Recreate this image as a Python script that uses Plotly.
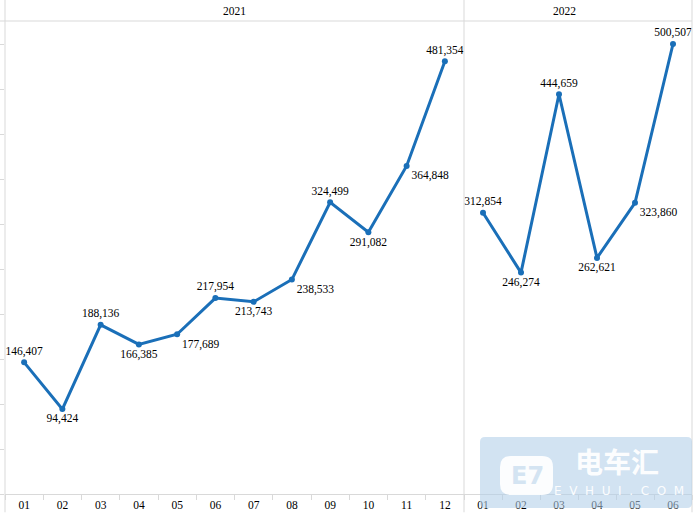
import plotly.graph_objects as go

months_2021 = ["01", "02", "03", "04", "05", "06", "07", "08", "09", "10", "11", "12"]
values_2021 = [146407, 94424, 188136, 166385, 177689, 217954, 213743, 238533, 324499, 291082, 364848, 481354]
pos_2021 = ["top center", "bottom center", "top center", "bottom center", "bottom right", "top center",
            "bottom center", "bottom right", "top center", "bottom center", "bottom right", "top center"]

months_2022 = ["01", "02", "03", "04", "05", "06"]
values_2022 = [312854, 246274, 444659, 262621, 323860, 500507]
pos_2022 = ["top center", "bottom center", "top center", "bottom center", "bottom right", "top center"]

years = ["2021", "2022"]

W, H = 700, 517
L, R, T, B = 5, 8, 22, 23
pw, ph = W - L - R, H - T - B
split = (464 - L) / pw

BLUE = "#1a6fb8"
GRID = "#d9d9d9"
FONT = "Liberation Serif"
FS = 11.5

def fmt(v):
    return f"{v:,}"

fig = go.Figure()
fig.add_trace(go.Scatter(x=months_2021, y=values_2021, mode="lines+markers+text",
                         text=[fmt(v) for v in values_2021], textposition=pos_2021,
                         line=dict(color=BLUE, width=3), marker=dict(color=BLUE, size=6),
                         textfont=dict(family=FONT, size=FS, color="black"),
                         xaxis="x", yaxis="y", cliponaxis=False, hoverinfo="skip"))
fig.add_trace(go.Scatter(x=months_2022, y=values_2022, mode="lines+markers+text",
                         text=[fmt(v) for v in values_2022], textposition=pos_2022,
                         line=dict(color=BLUE, width=3), marker=dict(color=BLUE, size=6),
                         textfont=dict(family=FONT, size=FS, color="black"),
                         xaxis="x2", yaxis="y2", cliponaxis=False, hoverinfo="skip"))

xcommon = dict(type="category", showgrid=False, zeroline=False, showline=True, linecolor=GRID,
               ticks="outside", tickson="boundaries", ticklen=5, tickcolor=GRID, automargin=False,
               tickfont=dict(family=FONT, size=FS, color="black"))
ycommon = dict(range=[0, 525000], dtick=50000, showgrid=False, zeroline=False,
               showticklabels=False, automargin=False)

fig.update_layout(
    width=W, height=H, margin=dict(l=L, r=R, t=T, b=B),
    paper_bgcolor="white", plot_bgcolor="white", showlegend=False,
    xaxis=dict(domain=[0, split], anchor="y", range=[-0.5, len(months_2021) - 0.5], **xcommon),
    xaxis2=dict(domain=[split, 1], anchor="y2", range=[-0.5, len(months_2022) - 0.5], **xcommon),
    yaxis=dict(domain=[0, 1], anchor="x", ticks="outside", ticklen=5, tickcolor=GRID, **ycommon),
    yaxis2=dict(domain=[0, 1], anchor="x2", matches="y", ticks="", **ycommon),
)

ytop = 1 + T / ph
ybot = -B / ph + 0.01
shapes = []
for xp in [0, split, 1]:
    shapes.append(dict(type="line", xref="paper", yref="paper", x0=xp, x1=xp, y0=ybot, y1=ytop,
                       line=dict(color=GRID, width=1)))
shapes.append(dict(type="line", xref="paper", yref="paper", x0=-L / pw, x1=1, y0=1 + 1 / ph, y1=1 + 1 / ph,
                   line=dict(color=GRID, width=1)))

# watermark (pixel helpers)
def py(p):
    return (H - B - p) / ph
def px(p):
    return (p - L) / pw

def rounded(x0, y0, x1, y1, r):
    X = lambda v: px(v)
    Y = lambda v: py(v)
    return (f"M {X(x0 + r)},{Y(y0)} L {X(x1 - r)},{Y(y0)} Q {X(x1)},{Y(y0)} {X(x1)},{Y(y0 + r)} "
            f"L {X(x1)},{Y(y1 - r)} Q {X(x1)},{Y(y1)} {X(x1 - r)},{Y(y1)} "
            f"L {X(x0 + r)},{Y(y1)} Q {X(x0)},{Y(y1)} {X(x0)},{Y(y1 - r)} "
            f"L {X(x0)},{Y(y0 + r)} Q {X(x0)},{Y(y0)} {X(x0 + r)},{Y(y0)} Z")

shapes.append(dict(type="path", xref="paper", yref="paper", path=rounded(480, 437, 692, 508, 5),
                   fillcolor="rgba(178,206,232,0.58)", line=dict(width=0), layer="above"))
shapes.append(dict(type="path", xref="paper", yref="paper", path=rounded(500, 456, 553, 495, 11),
                   fillcolor="rgba(255,255,255,0.92)", line=dict(width=0), layer="above"))
fig.update_layout(shapes=shapes)

annotations = [
    dict(x=split / 2, y=1 + 11 / ph, xref="paper", yref="paper", text=years[0], showarrow=False,
         font=dict(family=FONT, size=FS, color="black"), yanchor="middle"),
    dict(x=(split + 1) / 2, y=1 + 11 / ph, xref="paper", yref="paper", text=years[1], showarrow=False,
         font=dict(family=FONT, size=FS, color="black"), yanchor="middle"),
    dict(x=px(527), y=py(476), xref="paper", yref="paper", text="<b>E7</b>", showarrow=False,
         yanchor="middle", xanchor="center",
         font=dict(family="DejaVu Sans", size=24, color="rgb(212,228,242)")),
    dict(x=px(617), y=py(461), xref="paper", yref="paper", text="<b>电车汇</b>", showarrow=False,
         yanchor="middle", xanchor="center",
         font=dict(family="Noto Sans CJK SC", size=28, color="rgba(255,255,255,0.95)")),
    dict(x=px(619), y=py(491), xref="paper", yref="paper", text="E  V  H  U  I  .  C  O  M", showarrow=False,
         yanchor="middle", xanchor="center",
         font=dict(family="DejaVu Sans", size=12, color="rgba(255,255,255,0.95)")),
]
fig.update_layout(annotations=annotations)

fig.write_html("out.html")
